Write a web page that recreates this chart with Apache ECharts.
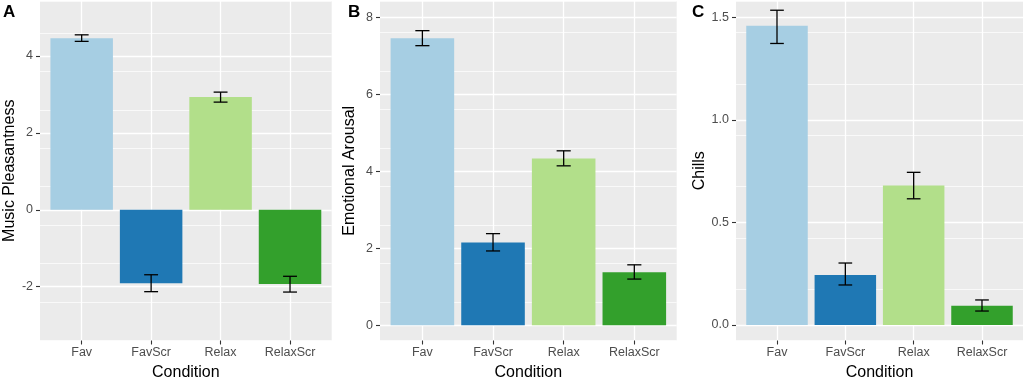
<!DOCTYPE html>
<html>
<head>
<meta charset="utf-8">
<script src="https://cdn.jsdelivr.net/npm/echarts@6/dist/echarts.min.js"></script>
<style>
  html, body { margin: 0; padding: 0; background: #fff; }
  #chart { width: 1023px; height: 377px; }
</style>
</head>
<body>
<div id="chart"></div>
<script>
// categories and bar colours (Paired palette)
const categories = ['Fav', 'FavScr', 'Relax', 'RelaxScr']
const barColors = ['#A6CEE3', '#1F78B4', '#B2DF8A', '#33A02C']

// A - music pleasantness
const pleasMean = [4.46, -1.91, 2.93, -1.93]
const pleasLo = [4.38, -2.13, 2.80, -2.14]
const pleasHi = [4.55, -1.69, 3.06, -1.73]
const pleasTicks = [-2, 0, 2, 4]

// B - emotional arousal
const arousalMean = [7.45, 2.15, 4.33, 1.38]
const arousalLo = [7.26, 1.93, 4.14, 1.20]
const arousalHi = [7.65, 2.38, 4.53, 1.57]
const arousalTicks = [0, 2, 4, 6, 8]

// C - chills
const chillsMean = [1.458, 0.244, 0.680, 0.094]
const chillsLo = [1.372, 0.195, 0.615, 0.068]
const chillsHi = [1.534, 0.302, 0.744, 0.122]
const chillsTicks = [0.0, 0.5, 1.0, 1.5]

const catPos = [1, 2, 3, 4]
const font = 'Liberation Sans, Arial, sans-serif'

const panels = [
  { letter: 'A', title: 'Music Pleasantness', mean: pleasMean, lo: pleasLo, hi: pleasHi, ticks: pleasTicks,
    min: -3.40, max: 5.43, minor: 1, left: 40, width: 291.7, decimals: 0, letterX: 3 },
  { letter: 'B', title: 'Emotional Arousal', mean: arousalMean, lo: arousalLo, hi: arousalHi, ticks: arousalTicks,
    min: -0.395, max: 8.42, minor: 1, left: 380, width: 296.7, decimals: 0, letterX: 348 },
  { letter: 'C', title: 'Chills', mean: chillsMean, lo: chillsLo, hi: chillsHi, ticks: chillsTicks,
    min: -0.0756, max: 1.579, minor: 0.25, left: 736, width: 287, decimals: 1, letterX: 692 }
]

function barItem(params, api) {
  const x = api.value(0)
  const y = api.value(1)
  const p0 = api.coord([x - 0.45, 0])
  const p1 = api.coord([x + 0.45, y])
  return {
    type: 'rect',
    shape: { x: p0[0], y: Math.min(p0[1], p1[1]), width: p1[0] - p0[0], height: Math.abs(p1[1] - p0[1]) },
    style: { fill: barColors[x - 1] }
  }
}

function errItem(params, api) {
  const x = api.value(0)
  const top = api.coord([x, api.value(2)])
  const bot = api.coord([x, api.value(1)])
  const l = api.coord([x - 0.1, 0])[0]
  const r = api.coord([x + 0.1, 0])[0]
  const st = { stroke: '#000', lineWidth: 1.3 }
  return {
    type: 'group',
    children: [
      { type: 'line', shape: { x1: top[0], y1: top[1], x2: bot[0], y2: bot[1] }, style: st },
      { type: 'line', shape: { x1: l, y1: top[1], x2: r, y2: top[1] }, style: st },
      { type: 'line', shape: { x1: l, y1: bot[1], x2: r, y2: bot[1] }, style: st }
    ]
  }
}

const grid = []
const xAxis = []
const yAxis = []
const series = []
const title = []

panels.forEach((p, i) => {
  grid.push({
    left: p.left, width: p.width, top: 1, bottom: 36.5,
    backgroundColor: '#EBEBEB', show: true, borderWidth: 0,
    outerBoundsMode: 'none', containLabel: false
  })
  xAxis.push({
    type: 'value', gridIndex: i, min: 0.4, max: 4.6,
    name: 'Condition', nameLocation: 'middle', nameGap: 22,
    nameTextStyle: { fontFamily: font, fontSize: 16, color: '#000' },
    axisLine: { show: false, onZero: false },
    axisTick: { show: true, length: 4, customValues: catPos, lineStyle: { color: '#333', width: 1.1 } },
    axisLabel: { customValues: catPos, margin: 6, fontFamily: font, fontSize: 12.5, color: '#4D4D4D',
      formatter: v => categories[Math.round(v) - 1] },
    splitLine: { show: true, lineStyle: { color: '#fff', width: 1.3 } }
  })
  // major y axis
  yAxis.push({
    type: 'value', gridIndex: i, min: p.min, max: p.max, position: 'left',
    name: p.title, nameLocation: 'middle', nameGap: 22,
    nameTextStyle: { fontFamily: font, fontSize: 16, color: '#000' },
    axisLine: { show: false, onZero: false },
    axisTick: { show: true, length: 4, customValues: p.ticks, lineStyle: { color: '#333', width: 1.1 } },
    axisLabel: { customValues: p.ticks, margin: 7, fontFamily: font, fontSize: 12.5, color: '#4D4D4D',
      formatter: v => v.toFixed(p.decimals) },
    splitLine: { show: true, lineStyle: { color: '#fff', width: 1.3 } }
  })
  // minor gridlines
  yAxis.push({
    type: 'value', gridIndex: i, min: p.min, max: p.max, interval: p.minor, position: 'left',
    axisLine: { show: false, onZero: false }, axisTick: { show: false }, axisLabel: { show: false },
    splitLine: { show: true, lineStyle: { color: '#fff', width: 0.7 } }
  })
  series.push({
    type: 'custom', xAxisIndex: i, yAxisIndex: i * 2, renderItem: barItem,
    data: catPos.map((c, k) => [c, p.mean[k]])
  })
  series.push({
    type: 'custom', xAxisIndex: i, yAxisIndex: i * 2, renderItem: errItem, z: 5,
    data: catPos.map((c, k) => [c, p.lo[k], p.hi[k]])
  })
  title.push({
    text: p.letter, left: p.letterX, top: 4, padding: 0,
    textStyle: { fontFamily: font, fontSize: 17, fontWeight: 'bold', color: '#000' }
  })
})

const chart = echarts.init(document.getElementById('chart'))
chart.setOption({ animation: false, title, grid, xAxis, yAxis, series })
</script>
</body>
</html>
